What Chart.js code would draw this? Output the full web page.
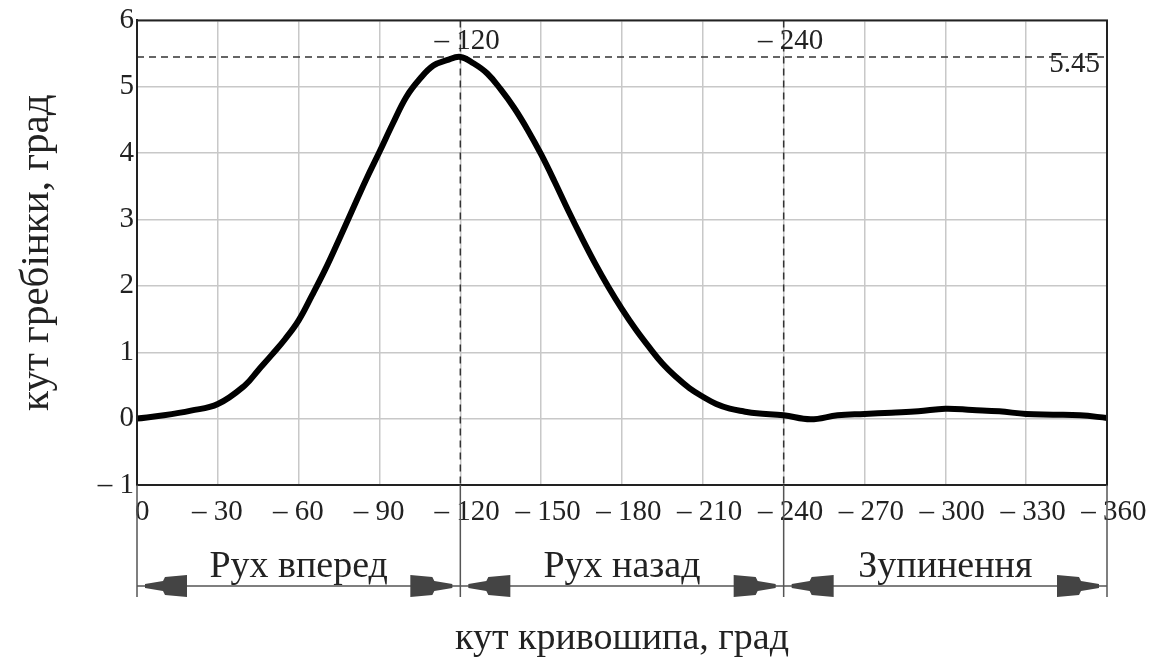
<!DOCTYPE html>
<html>
<head>
<meta charset="utf-8">
<script src="https://cdn.jsdelivr.net/npm/chart.js@4.4.0/dist/chart.umd.min.js"></script>
<style>
  html, body { margin: 0; padding: 0; background: #fff; }
</style>
</head>
<body>
<canvas id="combChart" width="1153" height="662"></canvas>
<script>
// кут кривошипа (град) і кут гребінки (град)
const crankAngle = [0, 10, 20, 30, 40, 45, 50, 55, 60, 65, 70, 75, 80, 85, 90, 95, 100, 105, 110, 115, 120,
    125, 130, 135, 140, 145, 150, 155, 160, 165, 170, 175, 180, 185, 190, 195, 200, 205, 210, 215, 220, 225, 230, 240,
    250, 260, 270, 280, 290, 300, 310, 320, 330, 340, 350, 360];
const combAngle = [0.0, 0.05, 0.12, 0.22, 0.5, 0.73, 0.96, 1.2, 1.48, 1.86, 2.26, 2.7, 3.15, 3.6, 4.02, 4.45, 4.85, 5.12, 5.32, 5.4, 5.45,
    5.35, 5.2, 4.96, 4.68, 4.35, 3.98, 3.57, 3.14, 2.73, 2.34, 1.98, 1.65, 1.35, 1.08, 0.83, 0.63, 0.46, 0.33, 0.22, 0.15, 0.11, 0.08, 0.05,
    -0.01, 0.05, 0.07, 0.09, 0.11, 0.15, 0.13, 0.11, 0.07, 0.06, 0.05, 0.01];

const markerAngles = [120, 240];
const peakValue = 5.45;
const regionEdges = [0, 120, 240, 360];
const regionLabels = ["Рух вперед", "Рух назад", "Зупинення"];

const SERIF = "'Liberation Serif', 'Times New Roman', serif";
const INK = "#222";

function drawArrow(ctx, tip, y, dir) {
    // dir = -1: tip points left, base to the right
    const s = -dir;
    ctx.beginPath();
    ctx.moveTo(tip, y - 2);
    ctx.lineTo(tip + s * 18, y - 5);
    ctx.lineTo(tip + s * 20, y - 9);
    ctx.lineTo(tip + s * 42, y - 11);
    ctx.lineTo(tip + s * 42, y + 11);
    ctx.lineTo(tip + s * 20, y + 9);
    ctx.lineTo(tip + s * 18, y + 5);
    ctx.lineTo(tip, y + 2);
    ctx.closePath();
    ctx.fill();
}

const overlay = {
    id: "overlay",
    beforeDatasetsDraw(chart) {
        const { ctx, chartArea: a, scales: { x, y } } = chart;
        ctx.save();
        ctx.strokeStyle = "#333";
        ctx.lineWidth = 1.5;
        ctx.setLineDash([7, 5]);
        ctx.beginPath();
        const py = y.getPixelForValue(peakValue);
        ctx.moveTo(a.left, py);
        ctx.lineTo(a.right, py);
        markerAngles.forEach((m) => {
            const px = x.getPixelForValue(m);
            ctx.moveTo(px, a.top);
            ctx.lineTo(px, a.bottom);
        });
        ctx.stroke();
        ctx.restore();
    },
    afterDraw(chart) {
        const { ctx, chartArea: a, scales: { x, y } } = chart;
        ctx.save();

        // frame
        ctx.strokeStyle = INK;
        ctx.lineWidth = 2;
        ctx.strokeRect(a.left, a.top, a.right - a.left, a.bottom - a.top);

        // x tick labels, Mathcad style "– 30"
        ctx.fillStyle = INK;
        ctx.font = "29px " + SERIF;
        ctx.textAlign = "left";
        ctx.textBaseline = "alphabetic";
        const dashW = ctx.measureText("– ").width;
        x.ticks.forEach((t) => {
            const px = x.getPixelForValue(t.value);
            if (t.value === 0) {
                ctx.fillText("0", px - 2, a.bottom + 35);
            } else {
                ctx.fillText("– " + t.value, px - 4 - dashW, a.bottom + 35);
            }
        });

        // marker labels at the top
        markerAngles.forEach((m) => {
            const px = x.getPixelForValue(m);
            ctx.fillText("– " + m, px - 4 - dashW, a.top + 29);
        });
        ctx.textAlign = "right";
        ctx.fillText(peakValue.toFixed(2), a.right - 7, y.getPixelForValue(peakValue) + 15);

        // region separators and dimension line
        const lineY = a.bottom + 101;
        ctx.strokeStyle = "#555";
        ctx.lineWidth = 1.5;
        ctx.beginPath();
        regionEdges.forEach((e) => {
            const px = x.getPixelForValue(e);
            ctx.moveTo(px, a.bottom);
            ctx.lineTo(px, a.bottom + 112);
        });
        ctx.moveTo(x.getPixelForValue(regionEdges[0]), lineY);
        ctx.lineTo(x.getPixelForValue(regionEdges[regionEdges.length - 1]), lineY);
        ctx.stroke();

        ctx.fillStyle = "#444";
        for (let i = 0; i < regionLabels.length; i++) {
            const p0 = x.getPixelForValue(regionEdges[i]);
            const p1 = x.getPixelForValue(regionEdges[i + 1]);
            drawArrow(ctx, p0 + 8, lineY, -1);
            drawArrow(ctx, p1 - 8, lineY, 1);
        }

        ctx.fillStyle = INK;
        ctx.font = "38px " + SERIF;
        ctx.textAlign = "center";
        for (let i = 0; i < regionLabels.length; i++) {
            const p0 = x.getPixelForValue(regionEdges[i]);
            const p1 = x.getPixelForValue(regionEdges[i + 1]);
            ctx.fillText(regionLabels[i], (p0 + p1) / 2, a.bottom + 92);
        }
        ctx.restore();
    },
};

new Chart(document.getElementById("combChart").getContext("2d"), {
    type: "line",
    data: {
        datasets: [
            {
                data: crankAngle.map((c, i) => ({ x: c, y: combAngle[i] })),
                borderColor: "#000",
                borderWidth: 6,
                pointRadius: 0,
                fill: false,
                tension: 0.4,
            },
        ],
    },
    options: {
        responsive: false,
        animation: false,
        layout: { padding: { top: 18, right: 46, left: 0, bottom: 0 } },
        plugins: {
            legend: { display: false },
            tooltip: { enabled: false },
        },
        scales: {
            x: {
                type: "linear",
                min: 0,
                max: 360,
                afterFit: (scale) => { scale.height = 177; },
                ticks: { stepSize: 30, display: false },
                grid: { color: "#c8c8c8", lineWidth: 1.5, drawTicks: false },
                border: { display: true, color: INK, width: 2 },
                title: {
                    display: true,
                    text: "кут кривошипа, град",
                    color: INK,
                    font: { family: SERIF, size: 38 },
                    padding: { top: 0, bottom: 0 },
                },
            },
            y: {
                min: -1,
                max: 6,
                afterFit: (scale) => { scale.width = 137; },
                ticks: {
                    stepSize: 1,
                    padding: 3,
                    color: INK,
                    font: { family: SERIF, size: 29 },
                    callback: (v) => (v < 0 ? "– " + Math.abs(v) : String(v)),
                },
                grid: { color: "#c8c8c8", lineWidth: 1.5, drawTicks: false },
                border: { display: true, color: INK, width: 2 },
                title: {
                    display: true,
                    text: "кут гребінки, град",
                    color: INK,
                    font: { family: SERIF, size: 41 },
                    padding: { top: 13, bottom: 0 },
                },
            },
        },
    },
    plugins: [overlay],
});
</script>
</body>
</html>
